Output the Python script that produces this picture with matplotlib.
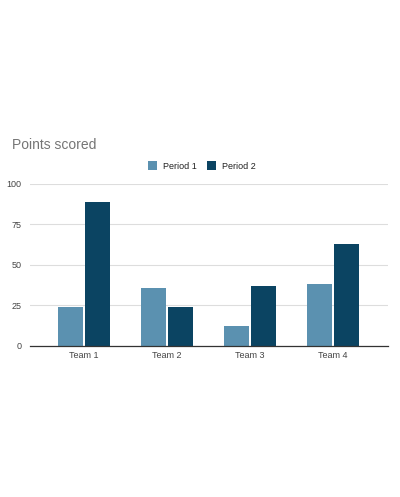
import matplotlib
matplotlib.use("Agg")
import matplotlib.pyplot as plt
import numpy as np

teams = ["Team 1", "Team 2", "Team 3", "Team 4"]
period1 = [24, 36, 12, 38]
period2 = [89, 24, 37, 63]
series_names = ["Period 1", "Period 2"]
colors = ["#5b91b0", "#0b4462"]
yticks = [0, 25, 50, 75, 100]

plt.rcParams['font.family'] = ['Liberation Sans', 'DejaVu Sans']
fig = plt.figure(figsize=(4.0, 4.97), dpi=100)
ax = fig.add_axes([0.075, 0.304, 0.895, 0.326])

x = np.arange(len(teams))
w = 0.30
gap = 0.012
ax.bar(x - w / 2 - gap, period1, width=w, color=colors[0], label=series_names[0], zorder=3)
ax.bar(x + w / 2 + gap, period2, width=w, color=colors[1], label=series_names[1], zorder=3)

ax.set_ylim(0, 100)
ax.set_xlim(-0.65, 3.66)
ax.set_yticks(yticks)
ax.set_yticklabels([str(t) for t in yticks])
ax.set_xticks(x)
ax.set_xticklabels(teams)
ax.tick_params(axis='both', length=0, labelsize=6.5, colors='#444444', pad=4)
ax.tick_params(axis='y', pad=6)
ax.grid(axis='y', color='#dddddd', linewidth=0.8, zorder=0)
for s in ['top', 'right', 'left']:
    ax.spines[s].set_visible(False)
ax.spines['bottom'].set_color('#333333')
ax.spines['bottom'].set_linewidth(0.9)
ax.spines['bottom'].set_zorder(4)

fig.text(0.03, 0.708, "Points scored", fontsize=10, color='#757575', va='center', ha='left')
fig.legend(loc='center', bbox_to_anchor=(0.505, 0.666), ncol=2, frameon=False,
           fontsize=6.5, handlelength=1.0, handleheight=1.0, columnspacing=1.2,
           handletextpad=0.6, labelcolor='#222222')

fig.savefig("out.png", dpi=100, facecolor='white')
